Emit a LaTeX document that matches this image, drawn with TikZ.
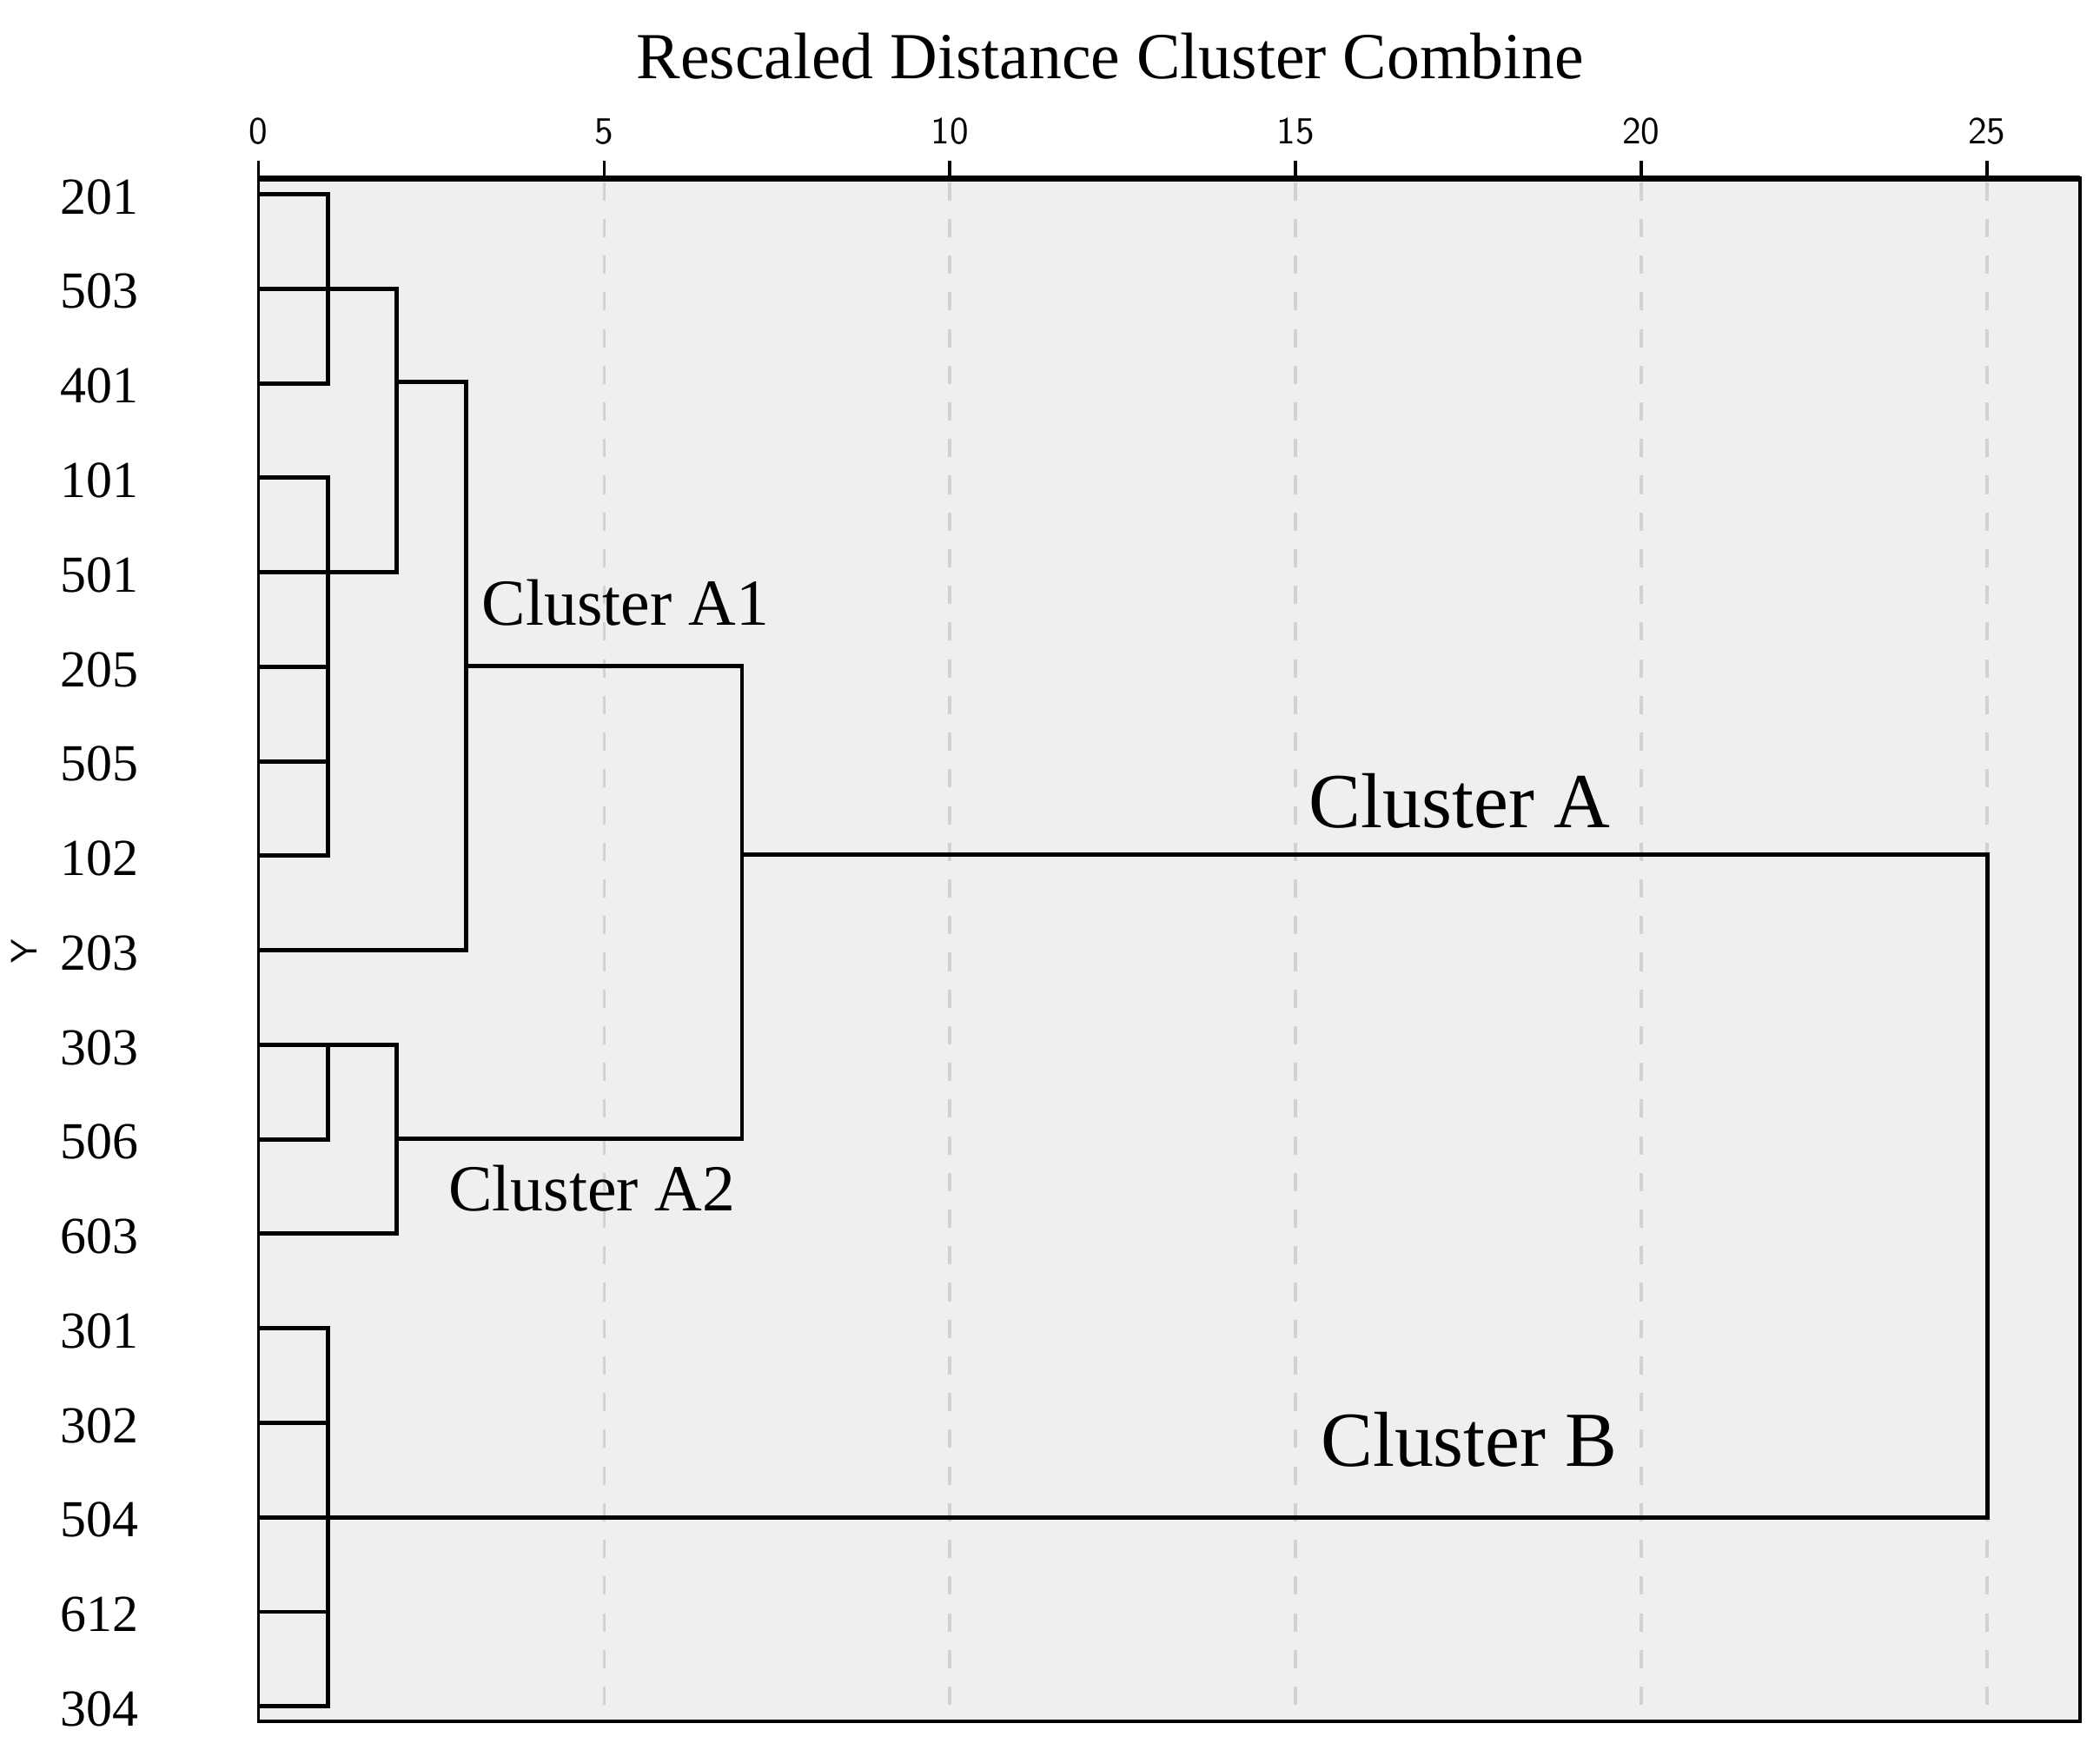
\documentclass[tikz,border=0pt]{standalone}
\usepackage{fontspec}
\setmainfont{Liberation Serif}
\begin{document}
\begin{tikzpicture}[x=0.0154cm,y=-0.0154cm,
  den/.style={line width=1.4pt,black},
  grid/.style={line width=1pt,dashed,dash pattern=on 6pt off 6pt,gray!35},
  lab/.style={font=\fontsize{17}{17}\selectfont,anchor=east,inner sep=0pt},
  tick/.style={font=\sffamily\fontsize{12.5}{12.5}\selectfont,inner sep=0pt},
  clu/.style={font=\fontsize{21.5}{21.5}\selectfont,inner sep=0pt},
  big/.style={font=\fontsize{25.5}{25.5}\selectfont,inner sep=0pt}]
\useasboundingbox (0,0) rectangle (1568,1306);
\fill[fill={rgb,255:red,239;green,239;blue,239}] (193,133) rectangle (1553,1285);
\foreach \i in {5,10,15,20,25}{\draw[grid] ({193+51.62*\i},136) -- ({193+51.62*\i},1283);}
\draw[line width=1pt] (193,133) rectangle (1553,1285);
\draw[line width=2pt] (193,133) -- (1553,133);
\foreach \i in {0,5,10,15,20,25}{
  \draw[line width=1pt] ({193+51.62*\i},120) -- ({193+51.62*\i},133);
  \node[tick] (t\i) at ({193+51.62*\i},98) {\i};}
\node[font=\fontsize{21.5}{21.5}\selectfont] (title) at (829,42) {Rescaled Distance Cluster Combine};
\node[font=\sffamily\fontsize{12}{12}\selectfont,rotate=90] (ylab) at (18,710) {Y};
\foreach \l [count=\k from 0] in {201,503,401,101,501,205,505,102,203,303,506,603,301,302,504,612,304}{
  \coordinate (r\k) at (193,{145+70.56*\k});
  \node[lab] (n\l) at (104,{147+70.56*\k}) {\l};}
% cluster A1
\draw[den] (r0) -- ++(52,0) |- (r2);
\draw[den] (r1) -- ++(103,0) |- (r4);
\draw[den] (r2) -- ++(52,0);
\draw[den] (296,285) -- (348,285) |- (r8);
\draw[den] (r3) -- ++(52,0) |- (r7);
\draw[den] (r5) -- ++(52,0);
\draw[den] (r6) -- ++(52,0);
\draw[den] (348,497) -- (554,497) |- (296,850);
\draw[den] (554,638) -- (1484,638) |- (245,1133);
% cluster A2
\draw[den] (r9) -- ++(103,0) |- (r11);
\draw[den] (245,780) |- (r10);
% cluster B
\draw[den] (r12) -- ++(52,0) |- (r16);
\draw[den] (r13) -- ++(52,0);
\draw[den] (r14) -- ++(52,0);
\draw[den] (r15) -- ++(52,0);
\node[clu] (a1) at (467,450) {Cluster A1};
\node[clu] (a2) at (442,887) {Cluster A2};
\node[big] (ca) at (1090,598) {Cluster A};
\node[big] (cb) at (1097,1075) {Cluster B};
\end{tikzpicture}
\end{document}
